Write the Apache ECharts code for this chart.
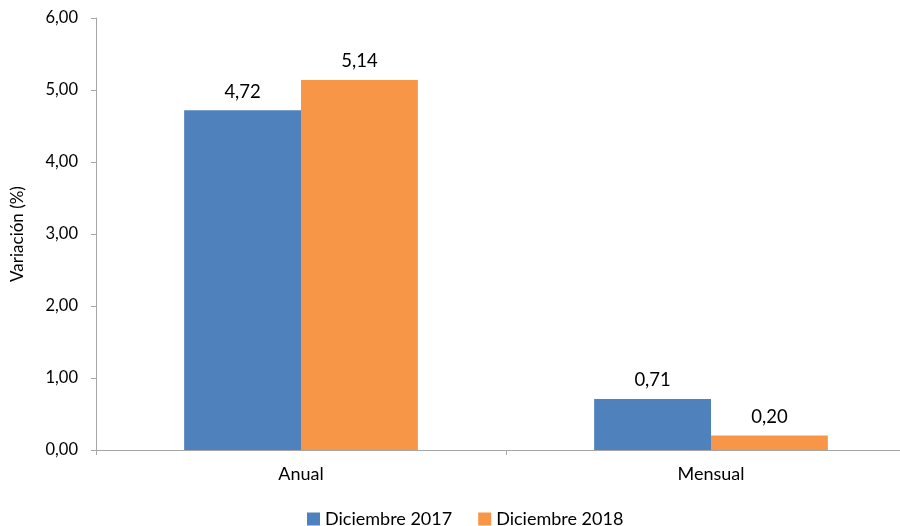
<!DOCTYPE html>
<html><head><meta charset="utf-8">
<script src="https://cdn.jsdelivr.net/npm/echarts@6/dist/echarts.min.js"></script>
<style>html,body{margin:0;padding:0;background:#fff;overflow:hidden;width:900px;height:526px}#c{width:916px;height:526px}</style>
</head><body><div id="c"></div>
<script>
const categories = ['Anual', 'Mensual'];
const seriesNames = ['Diciembre 2017', 'Diciembre 2018'];
const values2017 = [4.72, 0.71];
const values2018 = [5.14, 0.20];
const colors = ['#4F81BD', '#F79646'];
const fmt = v => v.toFixed(2).replace('.', ',');
const font = 'Lato, "Open Sans", sans-serif';
const chart = echarts.init(document.getElementById('c'));
chart.setOption({
  animation: false,
  textStyle: { fontFamily: font },
  grid: { left: 96, right: 0, top: 18, bottom: 76, containLabel: false },
  legend: {
    top: 505, left: 302, itemWidth: 13, itemHeight: 13, itemGap: 26,
    icon: 'rect',
    textStyle: { fontSize: 18, color: '#000', fontFamily: font },
    data: seriesNames
  },
  xAxis: {
    type: 'category', data: categories,
    axisLine: { lineStyle: { color: '#A6A6A6' } },
    axisTick: { show: true, length: 5, lineStyle: { color: '#A6A6A6' } },
    axisLabel: { fontSize: 18, color: '#000', margin: 15 }
  },
  yAxis: {
    type: 'value', min: 0, max: 6, interval: 1,
    name: 'Variación (%)', nameLocation: 'middle', nameGap: 70,
    nameTextStyle: { fontSize: 17, color: '#000' },
    axisLine: { show: true, lineStyle: { color: '#A6A6A6' } },
    axisTick: { show: true, length: 5, lineStyle: { color: '#A6A6A6' } },
    splitLine: { show: false },
    axisLabel: { fontSize: 16.5, color: '#000', margin: 18, formatter: fmt }
  },
  series: [
    { name: seriesNames[0], type: 'bar', data: values2017, itemStyle: { color: colors[0] },
      barGap: '0%', barCategoryGap: '43%',
      label: { show: true, position: 'top', distance: 9, fontSize: 18.5, color: '#000', formatter: p => fmt(p.value) } },
    { name: seriesNames[1], type: 'bar', data: values2018, itemStyle: { color: colors[1] },
      barGap: '0%', barCategoryGap: '43%',
      label: { show: true, position: 'top', distance: 9, fontSize: 18.5, color: '#000', formatter: p => fmt(p.value) } }
  ]
});
</script></body></html>
